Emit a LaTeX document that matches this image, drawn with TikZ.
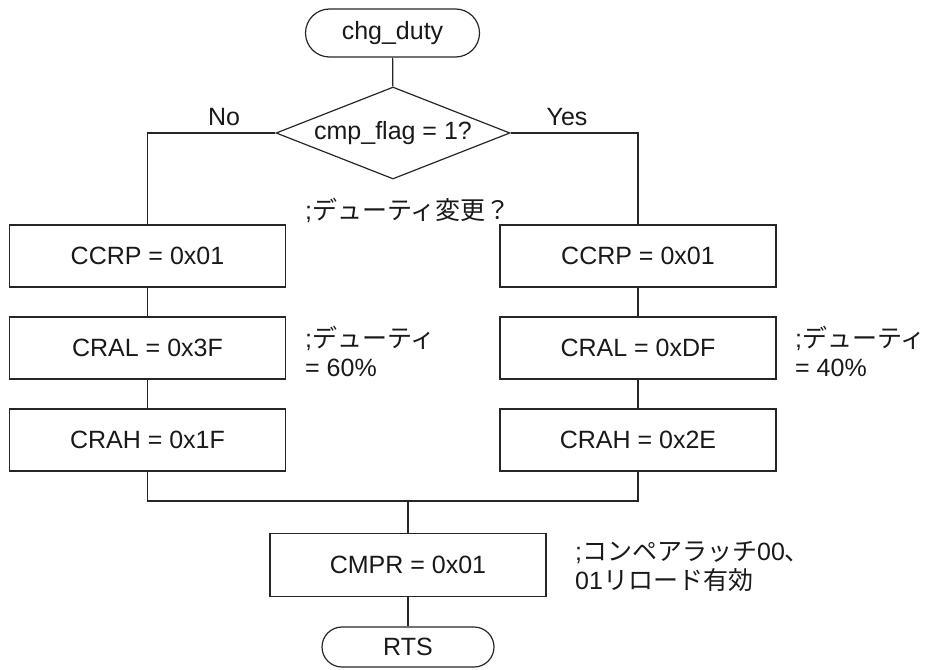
\documentclass[tikz,border=0pt]{standalone}
\usepackage{fontspec}
\setmainfont{Liberation Sans}
\newfontfamily\cjk{Noto Sans CJK JP}
\usetikzlibrary{shapes.geometric,shapes.misc}
\tikzset{
  base/.style={draw=black!85, line width=1.2pt, font=\fontsize{25}{29}\selectfont, text=black!90, inner sep=0pt},
  procbox/.style={base, rectangle, minimum width=276pt, minimum height=62pt},
  termbox/.style={base, rounded rectangle, minimum width=174pt},
  decbox/.style={base, diamond, aspect=2.54, minimum width=234pt, minimum height=92pt},
  conn/.style={draw=black!85, line width=1.2pt},
  lbl/.style={font=\fontsize{25}{29}\selectfont, text=black!90, inner sep=0pt},
  cmt/.style={lbl, align=left, anchor=west}
}
\begin{document}
\begin{tikzpicture}[x=1pt,y=-1pt]
\useasboundingbox (0,0) rectangle (936,669);
\node[termbox, minimum height=48pt] (start) at (392.5,33) {chg\_duty};
\node[decbox] (dec) at (393,133) {cmp\_flag = 1?};
\node[procbox] (l1) at (147.5,256) {CCRP = 0x01};
\node[procbox] (l2) at (147.5,348) {CRAL = 0x3F};
\node[procbox] (l3) at (147.5,440) {CRAH = 0x1F};
\node[procbox] (r1) at (638,256) {CCRP = 0x01};
\node[procbox] (r2) at (638,348) {CRAL = 0xDF};
\node[procbox] (r3) at (638,440) {CRAH = 0x2E};
\node[procbox, minimum height=63pt] (cmpr) at (408,565) {CMPR = 0x01};
\node[termbox, minimum height=40pt, minimum width=172pt] (rts) at (408,647) {RTS};
\coordinate (merge) at (408,501);
\node[lbl] (no) at (224,117) {No};
\node[lbl] (yes) at (567,117) {Yes};
\node[cmt] (c1) at (305,210) {;{\cjk デューティ変更？}};
\node[cmt] (c2) at (305,351.5) {;{\cjk デューティ}\\= 60\%};
\node[cmt] (c3) at (795,351.5) {;{\cjk デューティ}\\= 40\%};
\node[cmt] (c4) at (575,566) {;{\cjk コンペアラッチ}00{\cjk 、}\\01{\cjk リロード有効}};
\draw[conn] (start) -- (dec);
\draw[conn] (dec.west) -| (l1.north);
\draw[conn] (dec.east) -| (r1.north);
\draw[conn] (l1) -- (l2);
\draw[conn] (l2) -- (l3);
\draw[conn] (r1) -- (r2);
\draw[conn] (r2) -- (r3);
\draw[conn] (l3.south) |- (merge);
\draw[conn] (r3.south) |- (merge);
\draw[conn] (merge) -- (cmpr.north);
\draw[conn] (cmpr) -- (rts);
\end{tikzpicture}
\end{document}
